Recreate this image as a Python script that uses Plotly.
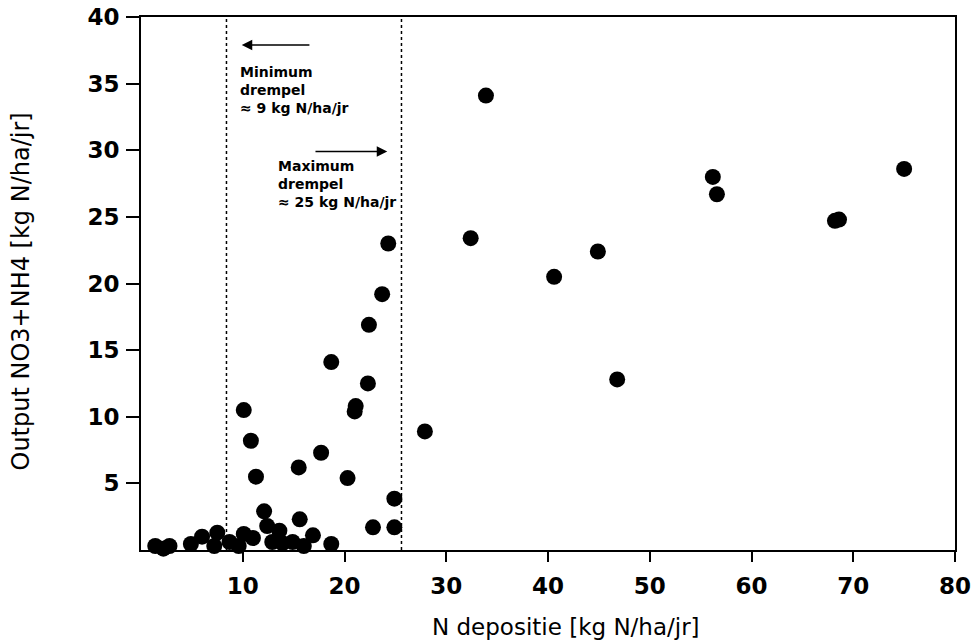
import plotly.graph_objects as go

# N deposition (kg N/ha/yr) and output NO3+NH4 (kg N/ha/yr)
n_depositie = [1.4, 2.2, 2.8, 4.9, 6.0, 7.5, 7.2, 8.7, 9.6, 10.1, 11.0, 12.1, 12.4, 12.9,
               13.6, 13.9, 14.9, 15.6, 16.0, 16.9, 18.7, 22.8, 24.9, 24.9,
               10.1, 10.8, 11.3, 15.5, 17.7, 20.3, 18.7, 21.0, 21.1, 22.3, 22.4, 23.7,
               24.3, 27.9, 32.4, 33.9, 40.6, 44.9, 46.8, 56.2, 56.6, 68.2, 68.6, 75.0]
output_n = [0.3, 0.1, 0.3, 0.45, 1.0, 1.3, 0.3, 0.6, 0.3, 1.2, 0.9, 2.9, 1.8, 0.6,
            1.45, 0.5, 0.6, 2.3, 0.3, 1.1, 0.45, 1.7, 1.7, 3.85,
            10.5, 8.2, 5.5, 6.2, 7.3, 5.4, 14.1, 10.4, 10.8, 12.5, 16.9, 19.2,
            23.0, 8.9, 23.4, 34.1, 20.5, 22.4, 12.8, 28.0, 26.7, 24.7, 24.8, 28.6]

# threshold lines (as drawn)
drempel_x = [8.4, 25.6]

x_ticks = [10, 20, 30, 40, 50, 60, 70, 80]
y_ticks = [5, 10, 15, 20, 25, 30, 35, 40]

x_title = "N depositie [kg N/ha/jr]"
y_title = "Output NO3+NH4 [kg N/ha/jr]"
label_min = ["Minimum", "drempel", "≈ 9 kg N/ha/jr"]
label_max = ["Maximum", "drempel", "≈ 25 kg N/ha/jr"]

fig = go.Figure()
fig.add_trace(go.Scatter(
    x=n_depositie, y=output_n, mode="markers",
    marker=dict(size=16, color="black", line=dict(width=0)),
    cliponaxis=False, showlegend=False,
))

for xv in drempel_x:
    fig.add_shape(type="line", xref="x", yref="paper", x0=xv, x1=xv, y0=0, y1=1,
                  line=dict(color="black", width=1.5, dash="dot"))

afont = dict(family="DejaVu Sans", size=14, color="black", weight="bold")
fig.add_annotation(x=9.5, y=36.6, xref="x", yref="y", text="<br>".join(label_min),
                   showarrow=False, xanchor="left", yanchor="top", align="left", font=afont)
fig.add_annotation(x=13.3, y=29.6, xref="x", yref="y", text="<br>".join(label_max),
                   showarrow=False, xanchor="left", yanchor="top", align="left", font=afont)

# arrows
fig.add_annotation(x=9.9, y=37.9, ax=16.7, ay=37.9, xref="x", yref="y", axref="x", ayref="y",
                   text="", showarrow=True, arrowhead=2, arrowsize=1.4, arrowwidth=1.5, arrowcolor="black")
fig.add_annotation(x=24.2, y=29.9, ax=17.0, ay=29.9, xref="x", yref="y", axref="x", ayref="y",
                   text="", showarrow=True, arrowhead=2, arrowsize=1.4, arrowwidth=1.5, arrowcolor="black")

# axis titles
tfont = dict(family="DejaVu Sans", size=23, color="black")
fig.add_annotation(x=0.522, y=-0.144, xref="paper", yref="paper", text=x_title, showarrow=False,
                   xanchor="center", yanchor="middle", font=tfont)
fig.add_annotation(x=-0.1474, y=0.485, xref="paper", yref="paper", text=y_title, showarrow=False,
                   textangle=-90, xanchor="center", yanchor="middle", font=dict(tfont, size=24))

tickfont = dict(family="DejaVu Sans", size=23, color="black", weight="bold")
fig.update_xaxes(range=[0, 80], tickvals=x_ticks, ticks="outside", ticklen=10, tickwidth=1.5,
                 tickcolor="black", showline=True, linecolor="black", linewidth=2, mirror=True,
                 showgrid=False, zeroline=False, tickfont=tickfont, ticklabelstandoff=4)
fig.update_yaxes(range=[0, 40], tickvals=y_ticks, ticks="outside", ticklen=13, tickwidth=1.5,
                 tickcolor="black", showline=True, linecolor="black", linewidth=2, mirror=True,
                 showgrid=False, zeroline=False, tickfont=tickfont, ticklabelstandoff=2)

fig.update_layout(width=975, height=643, margin=dict(l=141, r=20, t=17, b=93, autoexpand=False),
                  plot_bgcolor="white", paper_bgcolor="white")

# remove the default page margin so the figure fills the window exactly
fig.write_html("out.html", config={"displayModeBar": False},
               post_script="document.body.style.margin='0';")
